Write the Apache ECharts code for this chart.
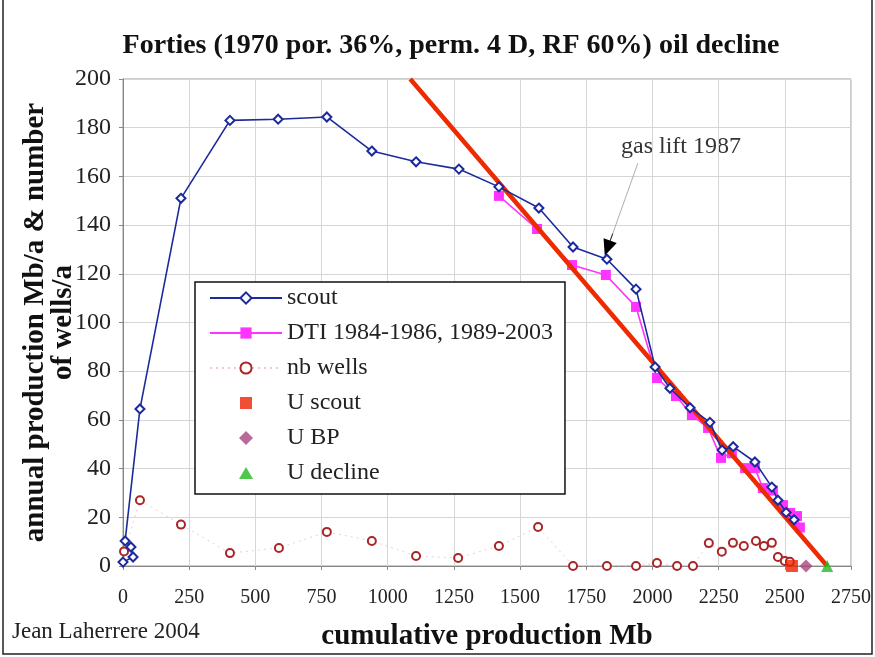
<!DOCTYPE html>
<html>
<head>
<meta charset="utf-8">
<script src="https://cdn.jsdelivr.net/npm/echarts@6/dist/echarts.min.js"></script>
<style>
  html, body { margin: 0; padding: 0; background: #fff; }
  #chart { width: 875px; height: 657px; }
</style>
</head>
<body>
<div id="chart"></div>
<script>
// scout production (cumulative Mb, Mb/a)
const scoutX = [0, 38, 30, 8, 64, 219, 404, 586, 770, 940, 1107, 1269, 1420, 1571, 1700, 1828, 1938, 2010, 2066, 2142, 2217, 2263, 2305, 2387, 2451, 2474, 2505, 2535];
const scoutY = [1.6, 3.7, 7.8, 10.3, 64.5, 151, 183, 183.5, 184.4, 170.4, 166, 163, 155.7, 147, 131, 126, 113.7, 81.7, 73, 65, 59, 47.6, 49, 42.7, 32.4, 27, 22, 19];

// DTI 1984-1986, 1989-2003
const dtiX = [1420, 1564, 1696, 1824, 1938, 2017, 2089, 2149, 2210, 2259, 2300, 2350, 2387, 2417, 2455, 2493, 2520, 2546, 2557];
const dtiY = [152, 138.4, 123.6, 119.5, 106.4, 77.2, 69.8, 62, 56.7, 44.4, 46.3, 40.2, 40.2, 32, 31, 25, 21.8, 20.5, 15.8];

// number of wells per year
const wellsX = [4, 64, 219, 404, 589, 770, 940, 1107, 1266, 1420, 1568, 1700, 1828, 1938, 2017, 2093, 2153, 2213, 2262, 2304, 2345, 2391, 2421, 2451, 2474, 2500, 2519];
const wellsY = [6, 27, 17, 5.3, 7.4, 14, 10.3, 4.1, 3.3, 8.2, 16, 0, 0, 0, 1.2, 0, 0, 9.4, 5.9, 9.5, 8.2, 10.3, 8.2, 9.5, 3.7, 2.1, 1.7];

// ultimates
const uScout = [2527, 0];
const uBP = [2580, 0];
const uDecline = [2660, 0];

// decline line
const declineX = [1085, 2660];
const declineY = [200, 0];

const xTicks = { min: 0, max: 2750, interval: 250 };
const yTicks = { min: 0, max: 200, interval: 20 };

const serif = "'Liberation Serif', 'Times New Roman', serif";
const pair = (xs, ys) => xs.map((x, i) => [x, ys[i]]);

// legend icons: small symbol centred in the 72x14 icon box
const iconSquare = 'path://M0,0M72,14M30,1L42,1L42,13L30,13Z';
const iconDiamond = 'path://M0,0M72,14M36,0L43,7L36,14L29,7Z';
const iconTriangle = 'path://M0,0M72,14M36,1L43,13L29,13Z';

const chart = echarts.init(document.getElementById('chart'));

chart.setOption({
  animation: false,
  backgroundColor: '#fff',
  textStyle: { fontFamily: serif },
  title: {
    text: 'Forties (1970 por. 36%, perm. 4 D, RF 60%) oil decline',
    left: 446,
    top: 27,
    textAlign: 'center',
    textStyle: { fontFamily: serif, fontSize: 28, fontWeight: 'bold', color: '#111' }
  },
  grid: {
    left: 123, top: 79, right: 24, bottom: 91,
    show: true, borderColor: '#999', borderWidth: 1, backgroundColor: '#fff'
  },
  legend: {
    orient: 'vertical',
    left: 195,
    top: 282,
    padding: [3, 12, 8, 14],
    itemGap: 9,
    itemWidth: 72,
    itemHeight: 14,
    backgroundColor: '#fff',
    borderColor: '#111',
    borderWidth: 1.5,
    textStyle: { fontFamily: serif, fontSize: 24, color: '#222', lineHeight: 26 },
    data: [
      'scout',
      'DTI 1984-1986, 1989-2003',
      'nb wells',
      { name: 'U scout', icon: iconSquare },
      { name: 'U BP', icon: iconDiamond },
      { name: 'U decline', icon: iconTriangle }
    ]
  },
  xAxis: {
    type: 'value',
    min: xTicks.min, max: xTicks.max, interval: xTicks.interval,
    name: 'cumulative production Mb',
    nameLocation: 'middle',
    nameGap: 56,
    nameMoveOverlap: false,
    nameTextStyle: { fontFamily: serif, fontSize: 29, fontWeight: 'bold', color: '#111' },
    axisLine: { show: true, lineStyle: { color: '#888' } },
    axisTick: { show: true, length: 4, lineStyle: { color: '#888' } },
    axisLabel: {
      fontFamily: serif, fontSize: 20, color: '#222', margin: 22,
      formatter: v => String(v)
    },
    splitLine: { show: true, lineStyle: { color: '#d6d6d6', width: 1 } }
  },
  yAxis: {
    type: 'value',
    min: yTicks.min, max: yTicks.max, interval: yTicks.interval,
    name: 'annual production Mb/a & number\nof wells/a',
    nameLocation: 'middle',
    nameRotate: 90,
    nameGap: 45,
    nameMoveOverlap: false,
    nameTextStyle: { fontFamily: serif, fontSize: 29, fontWeight: 'bold', color: '#111', lineHeight: 28 },
    axisLine: { show: true, lineStyle: { color: '#888' } },
    axisTick: { show: true, length: 4, lineStyle: { color: '#888' } },
    axisLabel: { fontFamily: serif, fontSize: 24, color: '#222', margin: 12 },
    splitLine: { show: true, lineStyle: { color: '#d6d6d6', width: 1 } }
  },
  series: [
    {
      name: 'nb wells',
      type: 'line',
      data: pair(wellsX, wellsY),
      symbol: 'emptyCircle',
      symbolSize: 8,
      lineStyle: { color: '#f2caca', width: 1, type: [2, 4] },
      itemStyle: { color: '#a82626', borderColor: '#a82626', borderWidth: 1.8 },
      z: 3
    },
    {
      name: 'decline',
      type: 'line',
      data: pair(declineX, declineY),
      symbol: 'none',
      lineStyle: { color: '#ee2a00', width: 4.5 },
      z: 4,
      markLine: {
        silent: true,
        symbol: ['none', 'none'],
        label: { show: false },
        lineStyle: { color: '#999', width: 0.8, type: 'solid' },
        data: [[{ coord: [1945, 165.5] }, { coord: [1840, 133.5] }]]
      }
    },
    {
      name: 'gas lift arrow',
      type: 'line',
      data: [],
      markLine: {
        silent: true,
        symbol: ['none', 'triangle'],
        symbolSize: [14, 16],
        label: { show: false },
        lineStyle: { color: '#000', width: 0.8, type: 'solid' },
        data: [[{ coord: [1850, 136.5] }, { coord: [1830, 130.5] }]]
      }
    },
    {
      name: 'DTI 1984-1986, 1989-2003',
      type: 'line',
      data: pair(dtiX, dtiY),
      symbol: 'rect',
      symbolSize: 10,
      lineStyle: { color: '#ff33ff', width: 1.6 },
      itemStyle: { color: '#ff33ff' },
      z: 3
    },
    {
      name: 'scout',
      type: 'line',
      data: pair(scoutX, scoutY),
      symbol: 'emptyDiamond',
      symbolSize: 9,
      lineStyle: { color: '#1c2a9c', width: 1.6 },
      itemStyle: { color: '#1c2a9c', borderColor: '#1c2a9c', borderWidth: 1.8 },
      z: 5
    },
    {
      name: 'U scout',
      type: 'scatter',
      data: [uScout],
      symbol: 'rect',
      symbolSize: 12,
      itemStyle: { color: '#ee2200' },
      z: 6
    },
    {
      name: 'U BP',
      type: 'scatter',
      data: [uBP],
      symbol: 'diamond',
      symbolSize: 13,
      itemStyle: { color: '#a8457f' },
      z: 6
    },
    {
      name: 'U decline',
      type: 'scatter',
      data: [uDecline],
      symbol: 'triangle',
      symbolSize: 12,
      itemStyle: { color: '#22bb22' },
      z: 6
    }
  ],
  graphic: [
    {
      type: 'rect',
      shape: { x: 3, y: -3, width: 869, height: 657 },
      style: { fill: 'none', stroke: '#222', lineWidth: 1.5 },
      silent: true
    },
    {
      type: 'text',
      left: 12,
      top: 620,
      style: { text: 'Jean Laherrere 2004', font: '23px ' + serif, fill: '#222' }
    },
    {
      type: 'text',
      left: 621,
      top: 135,
      style: { text: 'gas lift 1987', font: '24px ' + serif, fill: '#333' }
    }
  ]
});
</script>
</body>
</html>
